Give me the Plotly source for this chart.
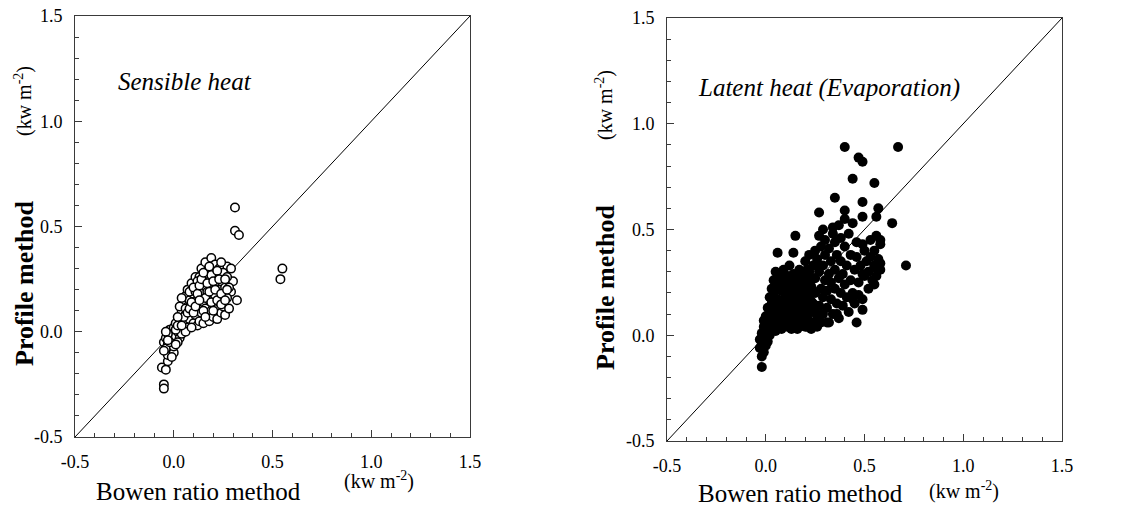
import plotly.graph_objects as go

# ---------------- data ----------------
tick_vals = [-0.5, 0.0, 0.5, 1.0, 1.5]
tick_text = ["-0.5", "0.0", "0.5", "1.0", "1.5"]
one_to_one = [-0.5, 1.5]

sensible_bowen = [
    0.31, 0.31, 0.33, 0.55, 0.54, 0.32, 0.30, 0.29, 0.27, -0.05, -0.05, -0.06, -0.04, -0.03,
    -0.05, -0.04, -0.03, -0.02, -0.03, -0.01, -0.04, -0.02, -0.01, 0.00, 0.01, -0.02, 0.00, 0.02,
    0.01, -0.03, 0.03, 0.02, -0.05, 0.00, -0.01, 0.03, 0.04, -0.04,
    0.03, 0.04, 0.05, 0.05, 0.06, 0.06, 0.07, 0.07, 0.07, 0.08, 0.08, 0.09, 0.09, 0.10, 0.10,
    0.10, 0.11, 0.11, 0.12, 0.12, 0.12, 0.04, 0.03, 0.06, 0.08, 0.09,
    0.13, 0.13, 0.13, 0.14, 0.14, 0.14, 0.15, 0.15, 0.15, 0.16, 0.16, 0.16, 0.17, 0.17, 0.17,
    0.18, 0.18, 0.18, 0.19, 0.19, 0.19, 0.20, 0.20, 0.20, 0.21, 0.21, 0.21, 0.22, 0.22, 0.22,
    0.23, 0.23, 0.23, 0.24, 0.24, 0.25, 0.25, 0.25, 0.26, 0.26, 0.27, 0.27, 0.28, 0.28, 0.29,
    0.24, 0.12, 0.11, 0.16, 0.19,
    0.00, -0.02, 0.01, 0.02, 0.04, 0.05, 0.06, 0.07, 0.08, 0.09, 0.10, 0.10, 0.11, 0.12, 0.13,
    0.13, 0.14, 0.15, 0.15, 0.16, 0.17, 0.18, 0.18, 0.19, 0.20, 0.20, 0.21, 0.22, 0.22, 0.23,
    0.24, 0.24, 0.26, 0.26, 0.27, 0.02, 0.01, -0.03,
]
sensible_profile = [
    0.59, 0.48, 0.46, 0.30, 0.25, 0.15, 0.24, 0.19, 0.31, -0.25, -0.27, -0.17, -0.18, -0.14,
    -0.05, -0.03, -0.06, -0.09, -0.11, -0.07, -0.08, -0.02, 0.00, -0.04, -0.02, 0.01, 0.02, 0.00,
    0.04, -0.01, -0.03, -0.05, -0.09, -0.10, -0.12, 0.02, -0.01, 0.00,
    0.06, 0.10, 0.04, 0.13, 0.08, 0.17, 0.02, 0.12, 0.20, 0.06, 0.15, 0.10, 0.23, 0.04, 0.18,
    0.13, 0.08, 0.26, 0.21, 0.15, 0.03, 0.16, 0.12, 0.00, 0.19, 0.02,
    0.11, 0.26, 0.05, 0.18, 0.30, 0.09, 0.22, 0.14, 0.04, 0.26, 0.11, 0.33, 0.19, 0.07, 0.29,
    0.15, 0.24, 0.05, 0.35, 0.10, 0.20, 0.28, 0.14, 0.07, 0.23, 0.32, 0.17, 0.11, 0.26, 0.06,
    0.20, 0.30, 0.14, 0.09, 0.24, 0.17, 0.28, 0.12, 0.21, 0.08, 0.16, 0.26, 0.11, 0.21, 0.30,
    0.33, 0.24, 0.19, 0.16, 0.27,
    -0.07, -0.05, 0.01, 0.03, 0.03, 0.07, 0.11, 0.09, 0.11, 0.14, 0.21, 0.09, 0.12, 0.18, 0.15,
    0.22, 0.25, 0.10, 0.28, 0.07, 0.23, 0.19, 0.31, 0.14, 0.24, 0.10, 0.20, 0.15, 0.29, 0.25,
    0.18, 0.13, 0.25, 0.15, 0.20, 0.07, -0.06, -0.04,
]

latent_bowen = [
    0.40, 0.67, 0.47, 0.49, 0.44, 0.55, 0.35, 0.49, 0.27, 0.40, 0.49, 0.57, 0.56, 0.64,
    0.15, 0.06, 0.14, 0.29, 0.34, 0.71, 0.46, -0.02, 0.58, 0.58, 0.49, 0.55, 0.58, 0.55,
    0.55, 0.49, 0.49, 0.44, 0.36, 0.32, 0.21,
    -0.02, -0.01, -0.03, -0.02, 0.00, -0.03, -0.01, 0.01, -0.02, 0.00, 0.02, -0.01, 0.01,
    0.03, 0.00, 0.02, 0.04, 0.05, 0.03,
    0.04, 0.05, 0.05, 0.06, 0.06, 0.07, 0.07, 0.08, 0.08, 0.08, 0.09, 0.09, 0.10, 0.10, 0.10,
    0.11, 0.11, 0.11, 0.12, 0.12, 0.12, 0.13, 0.13, 0.13, 0.14, 0.14, 0.15, 0.15, 0.15, 0.16,
    0.16, 0.16, 0.17, 0.17, 0.17, 0.18, 0.18, 0.19, 0.19, 0.19, 0.20, 0.20, 0.20, 0.21, 0.21,
    0.21, 0.22, 0.22, 0.22, 0.23, 0.23, 0.23, 0.24, 0.24, 0.24, 0.25, 0.25, 0.25, 0.26, 0.26,
    0.26,
    0.27, 0.27, 0.27, 0.28, 0.28, 0.28, 0.29, 0.29, 0.29, 0.30, 0.30, 0.30, 0.31, 0.31, 0.31,
    0.32, 0.32, 0.33, 0.33, 0.33, 0.34, 0.34, 0.35, 0.35, 0.35, 0.36, 0.36, 0.37, 0.37, 0.37,
    0.38, 0.38, 0.38, 0.39, 0.39, 0.40, 0.40, 0.40, 0.41, 0.41, 0.42, 0.42, 0.43, 0.43, 0.44,
    0.44, 0.45, 0.45, 0.46, 0.46,
    0.47, 0.47, 0.48, 0.49, 0.50, 0.50, 0.51, 0.52, 0.52, 0.53, 0.54, 0.55, 0.56, 0.57, 0.58,
    0.56, 0.53,
    0.02, 0.03, 0.04, 0.05, 0.06, 0.07, 0.08, 0.09, 0.09, 0.10, 0.11, 0.12, 0.13, 0.14, 0.14,
    0.15, 0.16, 0.17, 0.17, 0.18, 0.18, 0.19, 0.20, 0.20, 0.21, 0.22, 0.22, 0.23, 0.24, 0.24,
    0.25, 0.25, 0.01, 0.03, 0.06, 0.04, 0.07, 0.05, -0.01, 0.02,
]
latent_profile = [
    0.89, 0.89, 0.84, 0.82, 0.74, 0.72, 0.65, 0.63, 0.58, 0.59, 0.56, 0.60, 0.56, 0.53,
    0.47, 0.39, 0.39, 0.50, 0.51, 0.33, 0.06, -0.15, 0.45, 0.43, 0.43, 0.40, 0.34, 0.32,
    0.24, 0.29, 0.17, 0.17, 0.10, 0.06, 0.04,
    -0.10, -0.08, -0.06, -0.04, -0.05, -0.02, -0.01, -0.03, 0.01, 0.02, 0.00, 0.04, 0.06,
    0.03, 0.09, 0.11, 0.07, 0.02, 0.15,
    0.19, 0.12, 0.24, 0.05, 0.17, 0.28, 0.10, 0.21, 0.03, 0.14, 0.31, 0.25, 0.08, 0.18, 0.12,
    0.28, 0.04, 0.22, 0.15, 0.33, 0.09, 0.25, 0.19, 0.03, 0.12, 0.29, 0.07, 0.22, 0.16, 0.26,
    0.10, 0.03, 0.19, 0.31, 0.14, 0.06, 0.24, 0.28, 0.11, 0.17, 0.35, 0.04, 0.21, 0.08, 0.26,
    0.14, 0.38, 0.30, 0.18, 0.03, 0.11, 0.23, 0.33, 0.06, 0.15, 0.27, 0.20, 0.40, 0.09, 0.36,
    0.04,
    0.30, 0.14, 0.47, 0.22, 0.06, 0.42, 0.18, 0.33, 0.10, 0.26, 0.38, 0.45, 0.13, 0.21, 0.06,
    0.29, 0.41, 0.17, 0.35, 0.25, 0.10, 0.48, 0.22, 0.31, 0.44, 0.15, 0.38, 0.27, 0.52, 0.08,
    0.20, 0.35, 0.46, 0.29, 0.14, 0.42, 0.55, 0.24, 0.18, 0.33, 0.48, 0.11, 0.38, 0.26, 0.20,
    0.53, 0.31, 0.15, 0.44, 0.37,
    0.25, 0.19, 0.33, 0.12, 0.28, 0.40, 0.35, 0.22, 0.30, 0.37, 0.26, 0.33, 0.28, 0.36, 0.31,
    0.47, 0.45,
    0.18, 0.22, 0.26, 0.30, 0.22, 0.15, 0.26, 0.06, 0.17, 0.24, 0.14, 0.27, 0.08, 0.21, 0.05,
    0.27, 0.20, 0.09, 0.24, 0.13, 0.30, 0.23, 0.09, 0.15, 0.31, 0.05, 0.24, 0.16, 0.27, 0.21,
    0.12, 0.33, 0.13, 0.09, 0.12, 0.04, 0.06, 0.08, 0.07, 0.05,
]

# ---------------- layout helpers ----------------
W, H = 1122, 510
def px(x):
    return x / W
def py(y):
    return 1 - y / H

SERIF = "Liberation Serif"
AXCOL = "#3a3a3a"

fig = go.Figure()

fig.add_trace(go.Scatter(x=one_to_one, y=one_to_one, mode="lines",
                         line=dict(color="black", width=1), xaxis="x", yaxis="y",
                         showlegend=False, hoverinfo="skip"))
fig.add_trace(go.Scatter(x=sensible_bowen, y=sensible_profile, mode="markers",
                         marker=dict(symbol="circle", size=8.5, color="white",
                                     line=dict(color="black", width=1.5)),
                         xaxis="x", yaxis="y", showlegend=False))
fig.add_trace(go.Scatter(x=one_to_one, y=one_to_one, mode="lines",
                         line=dict(color="black", width=1), xaxis="x2", yaxis="y2",
                         showlegend=False, hoverinfo="skip"))
fig.add_trace(go.Scatter(x=latent_bowen, y=latent_profile, mode="markers",
                         marker=dict(symbol="circle", size=10, color="black",
                                     line=dict(width=0)),
                         xaxis="x2", yaxis="y2", showlegend=False))

def axis_style(domain, anchor):
    return dict(domain=domain, anchor=anchor, range=[-0.5, 1.5], automargin=False,
                tickmode="array", tickvals=tick_vals, ticktext=tick_text,
                ticks="inside", ticklen=7, tickwidth=1, tickcolor=AXCOL,
                minor=dict(ticks="inside", ticklen=4, tickcolor=AXCOL,
                           tickmode="linear", tick0=-0.5, dtick=0.1),
                showline=True, linecolor=AXCOL, linewidth=1, mirror=True,
                showgrid=False, zeroline=False,
                tickfont=dict(family=SERIF, size=18, color="black"),
                ticklabelstandoff=8, fixedrange=True)

fig.update_layout(
    template="none",
    font=dict(family=SERIF),
    width=W, height=H,
    margin=dict(l=0, r=0, t=0, b=0, pad=0),
    paper_bgcolor="white", plot_bgcolor="white",
    xaxis=axis_style([px(75), px(470)], "y"),
    yaxis=axis_style([py(437), py(16)], "x"),
    xaxis2=axis_style([px(667), px(1062)], "y2"),
    yaxis2=axis_style([py(441), py(18)], "x2"),
)

ann = []
def add_text(text, x, y, size, angle=0, xanchor="center", italic=False, bold=False):
    style = "italic" if italic else "normal"
    weight = "bold" if bold else "normal"
    ann.append(dict(text=text, x=px(x), y=py(y), xref="paper", yref="paper",
                    xanchor=xanchor, yanchor="middle", textangle=angle,
                    showarrow=False,
                    font=dict(family=SERIF, size=size, color="black",
                              style=style, weight=weight)))

# left panel
add_text("Sensible heat", 116, 82, 25, xanchor="left", italic=True)
add_text("Profile method", 24, 284, 26, angle=-90, bold=True)
add_text("(kw m<sup>-2</sup>)", 24, 101, 20, angle=-90)
add_text("Bowen ratio method", 198, 491, 25)
add_text("(kw m<sup>-2</sup>)", 379, 480, 20)
# right panel
add_text("Latent heat (Evaporation)", 696, 88, 25, xanchor="left", italic=True)
add_text("Profile method", 605, 288, 26, angle=-90, bold=True)
add_text("(kw m<sup>-2</sup>)", 605, 105, 20, angle=-90)
add_text("Bowen ratio method", 800, 493, 25)
add_text("(kw m<sup>-2</sup>)", 964, 490, 20)

fig.update_layout(annotations=ann)

fig.write_html("out.html")
